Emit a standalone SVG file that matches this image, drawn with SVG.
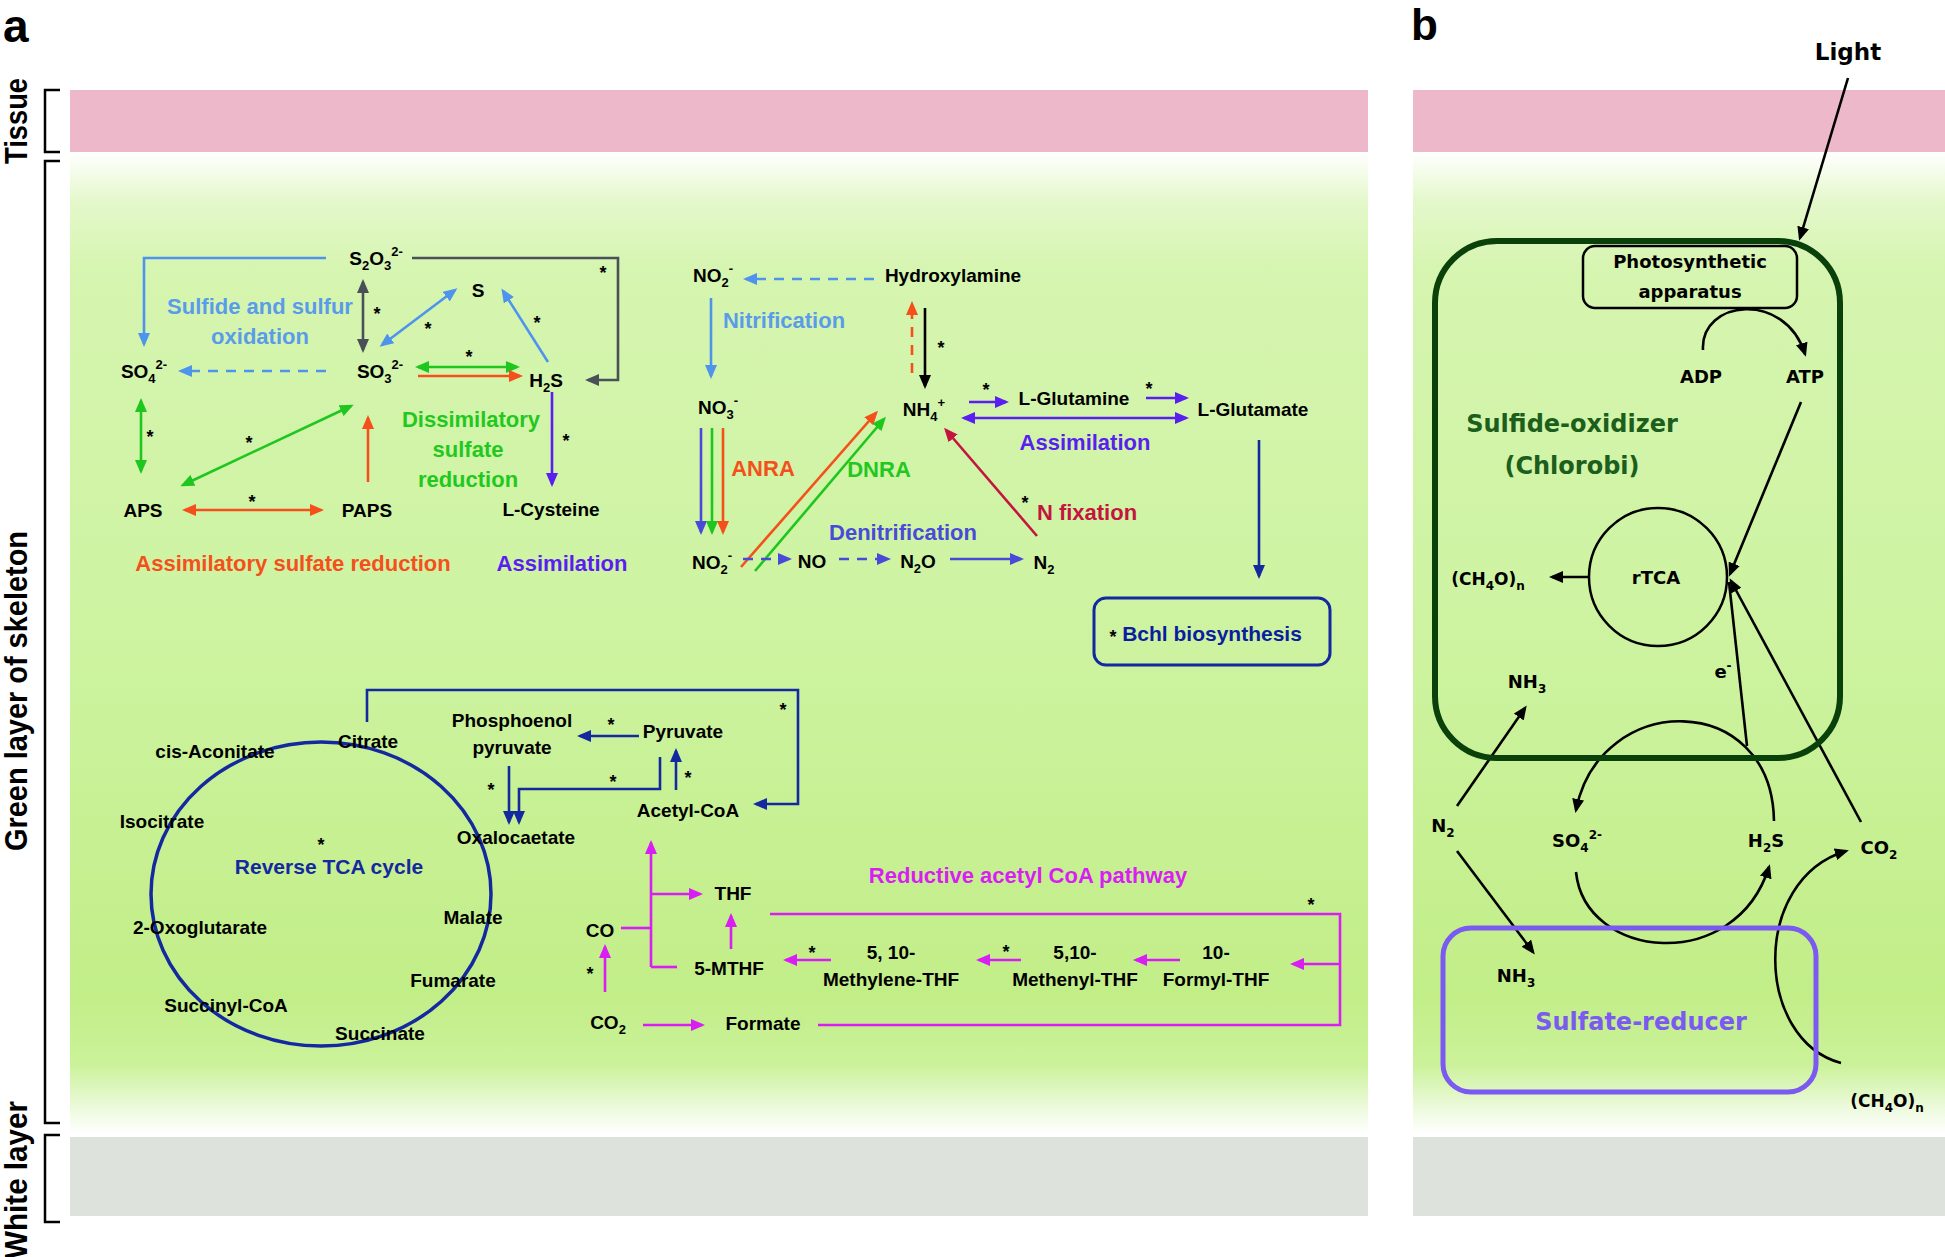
<svg xmlns="http://www.w3.org/2000/svg" width="1945" height="1257" viewBox="0 0 1945 1257">
<defs>
<style>
.n{font-family:"Liberation Sans",Arial,sans-serif;font-weight:bold;font-size:19px;fill:#000;text-anchor:middle}
.t{font-size:19px}
.lab{font-size:22px}
.sb{font-size:13px}
.st{font-family:"Liberation Sans",Arial,sans-serif;font-weight:bold;font-size:18px;text-anchor:middle;fill:#000}
.b{font-family:"DejaVu Sans",Verdana,sans-serif;font-weight:bold;font-size:18px;fill:#000;text-anchor:middle}
.bs{font-size:12px}
.vl{font-family:"Liberation Sans",Arial,sans-serif;font-weight:bold;font-size:32px;fill:#000;text-anchor:middle}
.c{fill:none;stroke-width:2.6}
.bl{stroke:#4F94EC}.gy{stroke:#4A5058}.gr{stroke:#1FC61F}.or{stroke:#F4501C}.pu{stroke:#5A1EF0}
.nv{stroke:#1428A0}.bk{stroke:#000}.cr{stroke:#C41440}.mg{stroke:#D81EF2}.dn{stroke:#4A4AD8}
.ds{stroke-dasharray:10 8}
</style>
<marker id="m-bl" markerUnits="userSpaceOnUse" markerWidth="14" markerHeight="12" refX="11" refY="6" orient="auto-start-reverse"><path d="M0,0 L14,6 L0,12 z" fill="#4F94EC"/></marker>
<marker id="m-gy" markerUnits="userSpaceOnUse" markerWidth="14" markerHeight="12" refX="11" refY="6" orient="auto-start-reverse"><path d="M0,0 L14,6 L0,12 z" fill="#4A5058"/></marker>
<marker id="m-gr" markerUnits="userSpaceOnUse" markerWidth="14" markerHeight="12" refX="11" refY="6" orient="auto-start-reverse"><path d="M0,0 L14,6 L0,12 z" fill="#1FC61F"/></marker>
<marker id="m-or" markerUnits="userSpaceOnUse" markerWidth="14" markerHeight="12" refX="11" refY="6" orient="auto-start-reverse"><path d="M0,0 L14,6 L0,12 z" fill="#F4501C"/></marker>
<marker id="m-pu" markerUnits="userSpaceOnUse" markerWidth="14" markerHeight="12" refX="11" refY="6" orient="auto-start-reverse"><path d="M0,0 L14,6 L0,12 z" fill="#5A1EF0"/></marker>
<marker id="m-nv" markerUnits="userSpaceOnUse" markerWidth="14" markerHeight="12" refX="11" refY="6" orient="auto-start-reverse"><path d="M0,0 L14,6 L0,12 z" fill="#1428A0"/></marker>
<marker id="m-bk" markerUnits="userSpaceOnUse" markerWidth="14" markerHeight="12" refX="11" refY="6" orient="auto-start-reverse"><path d="M0,0 L14,6 L0,12 z" fill="#000"/></marker>
<marker id="m-cr" markerUnits="userSpaceOnUse" markerWidth="14" markerHeight="12" refX="11" refY="6" orient="auto-start-reverse"><path d="M0,0 L14,6 L0,12 z" fill="#C41440"/></marker>
<marker id="m-mg" markerUnits="userSpaceOnUse" markerWidth="14" markerHeight="12" refX="11" refY="6" orient="auto-start-reverse"><path d="M0,0 L14,6 L0,12 z" fill="#D81EF2"/></marker>
<marker id="m-dn" markerUnits="userSpaceOnUse" markerWidth="14" markerHeight="12" refX="11" refY="6" orient="auto-start-reverse"><path d="M0,0 L14,6 L0,12 z" fill="#4A4AD8"/></marker>
<linearGradient id="green" x1="0" y1="152" x2="0" y2="1134" gradientUnits="userSpaceOnUse">
<stop offset="0" stop-color="#FFFFFF"/>
<stop offset="0.05" stop-color="#E4F8CB"/>
<stop offset="0.12" stop-color="#D6F5B0"/>
<stop offset="0.5" stop-color="#CDF3A0"/>
<stop offset="0.86" stop-color="#C2EE88"/>
<stop offset="0.93" stop-color="#CBF29A"/>
<stop offset="0.975" stop-color="#EEFADF"/>
<stop offset="1" stop-color="#FFFFFF"/>
</linearGradient>
</defs>
<rect width="1945" height="1257" fill="#FFFFFF"/>

<g id="background">
<rect x="70" y="90" width="1298" height="62" fill="#ECB8CA"/>
<rect x="70" y="152" width="1298" height="982" fill="url(#green)"/>
<rect x="70" y="1137" width="1298" height="79" fill="#DDE2DD"/>
<rect x="1413" y="90" width="532" height="62" fill="#ECB8CA"/>
<rect x="1413" y="152" width="532" height="982" fill="url(#green)"/>
<rect x="1413" y="1137" width="532" height="79" fill="#DDE2DD"/>
</g>

<g id="panel-labels">
<text x="3" y="42" font-family="Liberation Sans, Arial, sans-serif" font-weight="bold" font-size="46">a</text>
<text x="1411" y="40" font-family="Liberation Sans, Arial, sans-serif" font-weight="bold" font-size="44">b</text>
</g>

<g id="layer-brackets" fill="none" stroke="#000" stroke-width="2.5">
<path d="M60,90 H45 V152 H60"/>
<path d="M60,161 H45 V1123 H60"/>
<path d="M60,1135 H45 V1222 H60"/>
</g>
<g id="layer-labels">
<text class="vl" transform="translate(27,121) rotate(-90)" textLength="86" lengthAdjust="spacingAndGlyphs">Tissue</text>
<text class="vl" transform="translate(27,691) rotate(-90)" textLength="320" lengthAdjust="spacingAndGlyphs">Green layer of skeleton</text>
<text class="vl" transform="translate(27,1180) rotate(-90)" textLength="158" lengthAdjust="spacingAndGlyphs">White layer</text>
</g>

<g id="connectors">
<!-- sulfur -->
<path class="c bl" d="M326,258 H144 V344" marker-end="url(#m-bl)"/>
<path class="c gy" d="M412,258 H618 V380 H588" marker-end="url(#m-gy)"/>
<path class="c gy" d="M363,282 V350" marker-start="url(#m-gy)" marker-end="url(#m-gy)"/>
<path class="c bl" d="M382,345 L455,290" marker-start="url(#m-bl)" marker-end="url(#m-bl)"/>
<path class="c bl" d="M548,362 L503,291" marker-end="url(#m-bl)"/>
<path class="c bl ds" d="M326,371 H181" marker-end="url(#m-bl)"/>
<path class="c gr" d="M418,367 H517" marker-start="url(#m-gr)" marker-end="url(#m-gr)"/>
<path class="c or" d="M418,376 H520" marker-end="url(#m-or)"/>
<path class="c gr" d="M141,401 V471" marker-start="url(#m-gr)" marker-end="url(#m-gr)"/>
<path class="c gr" d="M183,485 L351,406" marker-start="url(#m-gr)" marker-end="url(#m-gr)"/>
<path class="c or" d="M185,510 H321" marker-start="url(#m-or)" marker-end="url(#m-or)"/>
<path class="c or" d="M368,482 V418" marker-end="url(#m-or)"/>
<path class="c pu" d="M552,392 V484" marker-end="url(#m-pu)"/>
<!-- nitrogen -->
<path class="c bl ds" d="M874,279 H746" marker-end="url(#m-bl)"/>
<path class="c bl" d="M711,298 V376" marker-end="url(#m-bl)"/>
<path class="c or ds" d="M912,373 V304" marker-end="url(#m-or)"/>
<path class="c bk" d="M925,308 V386" marker-end="url(#m-bk)"/>
<path class="c pu" d="M969,402 H1006" marker-end="url(#m-pu)"/>
<path class="c pu" d="M1146,398 H1186" marker-end="url(#m-pu)"/>
<path class="c pu" d="M964,418 H1186" marker-start="url(#m-pu)" marker-end="url(#m-pu)"/>
<path class="c nv" d="M1259,440 V576" marker-end="url(#m-nv)"/>
<path class="c dn" d="M701,428 V532" marker-end="url(#m-dn)"/>
<path class="c gr" d="M712,428 V532" marker-end="url(#m-gr)"/>
<path class="c or" d="M723,428 V532" marker-end="url(#m-or)"/>
<path class="c or" d="M741,567 L876,413" marker-end="url(#m-or)"/>
<path class="c gr" d="M755,571 L884,419" marker-end="url(#m-gr)"/>
<path class="c cr" d="M1037,536 L946,430" marker-end="url(#m-cr)"/>
<path class="c dn ds" d="M743,559 H789" marker-end="url(#m-dn)"/>
<path class="c dn ds" d="M839,559 H888" marker-end="url(#m-dn)"/>
<path class="c dn" d="M950,559 H1021" marker-end="url(#m-dn)"/>
<!-- TCA -->
<path class="c nv" d="M367,722 V690 H798 V804 H756" marker-end="url(#m-nv)"/>
<path class="c nv" d="M639,736 H580" marker-end="url(#m-nv)"/>
<path class="c nv" d="M676,790 V751" marker-end="url(#m-nv)"/>
<path class="c nv" d="M660,757 V789 H519 V822" marker-end="url(#m-nv)"/>
<path class="c nv" d="M509,766 V822" marker-end="url(#m-nv)"/>
<!-- reductive acetyl CoA -->
<path class="c mg" d="M605,992 V947" marker-end="url(#m-mg)"/>
<path class="c mg" d="M621,928 H651"/>
<path class="c mg" d="M651,967 V843" marker-end="url(#m-mg)"/>
<path class="c mg" d="M651,894 H700" marker-end="url(#m-mg)"/>
<path class="c mg" d="M651,967 H677"/>
<path class="c mg" d="M731,949 V916" marker-end="url(#m-mg)"/>
<path class="c mg" d="M770,914 H1340 V1025 H818"/>
<path class="c mg" d="M1340,964 H1293" marker-end="url(#m-mg)"/>
<path class="c mg" d="M1180,960 H1136" marker-end="url(#m-mg)"/>
<path class="c mg" d="M1021,960 H979" marker-end="url(#m-mg)"/>
<path class="c mg" d="M831,960 H786" marker-end="url(#m-mg)"/>
<path class="c mg" d="M643,1025 H702" marker-end="url(#m-mg)"/>
<!-- panel b -->
<path class="c bk" d="M1848,78 L1800,238" marker-end="url(#m-bk)"/>
<path class="c bk" d="M1703,350 C1700,300 1785,290 1805,354" marker-end="url(#m-bk)"/>
<path class="c bk" d="M1801,402 L1730,574" marker-end="url(#m-bk)"/>
<path class="c bk" d="M1589,577 H1552" marker-end="url(#m-bk)"/>
<path class="c bk" d="M1747,746 L1729,582"/>
<path class="c bk" d="M1861,822 L1731,581" marker-end="url(#m-bk)"/>
<path class="c bk" d="M1774,821 C1772,690 1600,690 1576,810" marker-end="url(#m-bk)"/>
<path class="c bk" d="M1576,872 C1585,960 1735,975 1769,867" marker-end="url(#m-bk)"/>
<path class="c bk" d="M1841,1063 C1755,1040 1750,880 1846,851" marker-end="url(#m-bk)"/>
<path class="c bk" d="M1457,806 L1525,708" marker-end="url(#m-bk)"/>
<path class="c bk" d="M1457,851 L1533,952" marker-end="url(#m-bk)"/>
</g>

<g id="sulfur">
<g id="n-s2o3"><text class="n" x="376" y="265">S<tspan class="sb" dy="5">2</tspan><tspan dy="-5">O</tspan><tspan class="sb" dy="5">3</tspan><tspan class="sb" dy="-14">2-</tspan></text></g>
<g id="n-s"><text class="n" x="478" y="297">S</text></g>
<g id="n-so4"><text class="n" x="144" y="378">SO<tspan class="sb" dy="5">4</tspan><tspan class="sb" dy="-14">2-</tspan></text></g>
<g id="n-so3"><text class="n" x="380" y="378">SO<tspan class="sb" dy="5">3</tspan><tspan class="sb" dy="-14">2-</tspan></text></g>
<g id="n-h2s"><text class="n" x="546" y="387">H<tspan class="sb" dy="5">2</tspan><tspan dy="-5">S</tspan></text></g>
<g id="n-aps"><text class="n" x="143" y="517">APS</text></g>
<g id="n-paps"><text class="n" x="367" y="517">PAPS</text></g>
<g id="n-cys"><text class="n t" x="551" y="516">L-Cysteine</text></g>
<g id="l-sox"><text class="n lab" x="260" y="314" style="fill:#5A9BEA">Sulfide and sulfur</text><text class="n lab" x="260" y="344" style="fill:#5A9BEA">oxidation</text></g>
<g id="l-dsr"><text class="n lab" x="471" y="427" style="fill:#22C81E">Dissimilatory</text><text class="n lab" x="468" y="457" style="fill:#22C81E">sulfate</text><text class="n lab" x="468" y="487" style="fill:#22C81E">reduction</text></g>
<g id="l-asr"><text class="n lab" x="293" y="571" style="fill:#F4501C">Assimilatory sulfate reduction</text></g>
<g id="l-assim1"><text class="n lab" x="562" y="571" style="fill:#5A1EF0">Assimilation</text></g>
<g id="stars-s">
<text class="st" x="603" y="279">*</text><text class="st" x="377" y="320">*</text><text class="st" x="428" y="335">*</text>
<text class="st" x="537" y="329">*</text><text class="st" x="469" y="363">*</text><text class="st" x="150" y="443">*</text>
<text class="st" x="249" y="449">*</text><text class="st" x="252" y="508">*</text><text class="st" x="566" y="447">*</text>
</g>
</g>

<g id="nitrogen">
<g id="n-no2a"><text class="n" x="713" y="282">NO<tspan class="sb" dy="5">2</tspan><tspan class="sb" dy="-14">-</tspan></text></g>
<g id="n-hydroxylamine"><text class="n" x="953" y="282">Hydroxylamine</text></g>
<g id="l-nitr"><text class="n lab" x="784" y="328" style="fill:#5A9BEA">Nitrification</text></g>
<g id="n-no3"><text class="n" x="718" y="414">NO<tspan class="sb" dy="5">3</tspan><tspan class="sb" dy="-14">-</tspan></text></g>
<g id="n-nh4"><text class="n" x="924" y="416">NH<tspan class="sb" dy="5">4</tspan><tspan class="sb" dy="-14">+</tspan></text></g>
<g id="n-gln"><text class="n" x="1074" y="405">L-Glutamine</text></g>
<g id="n-glu"><text class="n" x="1253" y="416">L-Glutamate</text></g>
<g id="l-assim2"><text class="n lab" x="1085" y="450" style="fill:#5A1EF0">Assimilation</text></g>
<g id="l-anra"><text class="n lab" x="763" y="476" style="fill:#F4501C">ANRA</text></g>
<g id="l-dnra"><text class="n lab" x="879" y="477" style="fill:#22C81E">DNRA</text></g>
<g id="l-nfix"><text class="n lab" x="1087" y="520" style="fill:#C41440">N fixation</text></g>
<g id="l-denit"><text class="n lab" x="903" y="540" style="fill:#4A4AD8">Denitrification</text></g>
<g id="n-no2b"><text class="n" x="712" y="569">NO<tspan class="sb" dy="5">2</tspan><tspan class="sb" dy="-14">-</tspan></text></g>
<g id="n-no"><text class="n" x="812" y="568">NO</text></g>
<g id="n-n2o"><text class="n" x="918" y="568">N<tspan class="sb" dy="5">2</tspan><tspan dy="-5">O</tspan></text></g>
<g id="n-n2"><text class="n" x="1044" y="569">N<tspan class="sb" dy="5">2</tspan></text></g>
<g id="n-bchl"><rect x="1094" y="598" width="236" height="67" rx="12" fill="none" stroke="#1428A0" stroke-width="3"/><text class="st" x="1113" y="643">*</text><text class="n" x="1212" y="641" style="fill:#0A1E9E;font-size:21px">Bchl biosynthesis</text></g>
<g id="stars-n"><text class="st" x="941" y="354">*</text><text class="st" x="986" y="396">*</text><text class="st" x="1149" y="395">*</text><text class="st" x="1025" y="509">*</text></g>
</g>

<g id="tca">
<ellipse id="rtca-cycle" cx="321" cy="894" rx="170" ry="152" fill="none" stroke="#1428A0" stroke-width="3.5"/>
<g id="n-cisacon"><text class="n t" x="215" y="758">cis-Aconitate</text></g>
<g id="n-citrate"><text class="n t" x="368" y="748">Citrate</text></g>
<g id="n-isocit"><text class="n t" x="162" y="828">Isocitrate</text></g>
<g id="l-rtca"><text class="st" x="321" y="851">*</text><text class="n" x="329" y="874" style="fill:#1428A0;font-size:21px">Reverse TCA cycle</text></g>
<g id="n-oxoglu"><text class="n t" x="200" y="934">2-Oxoglutarate</text></g>
<g id="n-malate"><text class="n t" x="473" y="924">Malate</text></g>
<g id="n-fumarate"><text class="n t" x="453" y="987">Fumarate</text></g>
<g id="n-succoa"><text class="n t" x="226" y="1012">Succinyl-CoA</text></g>
<g id="n-succinate"><text class="n t" x="380" y="1040">Succinate</text></g>
<g id="n-oaa"><text class="n t" x="516" y="844">Oxalocaetate</text></g>
<g id="n-pep"><text class="n t" x="512" y="727">Phosphoenol</text><text class="n t" x="512" y="754">pyruvate</text></g>
<g id="n-pyr"><text class="n t" x="683" y="738">Pyruvate</text></g>
<g id="n-accoa"><text class="n t" x="688" y="817">Acetyl-CoA</text></g>
<g id="stars-t"><text class="st" x="783" y="716">*</text><text class="st" x="611" y="731">*</text><text class="st" x="688" y="784">*</text><text class="st" x="613" y="788">*</text><text class="st" x="491" y="796">*</text></g>
</g>

<g id="acetylcoa-pathway">
<g id="l-racp"><text class="n lab" x="1028" y="883" style="fill:#D81EF2">Reductive acetyl CoA pathway</text></g>
<g id="n-co"><text class="n" x="600" y="937">CO</text></g>
<g id="n-co2a"><text class="n" x="608" y="1029">CO<tspan class="sb" dy="5">2</tspan></text></g>
<g id="n-thf"><text class="n t" x="733" y="900">THF</text></g>
<g id="n-mthf"><text class="n t" x="729" y="975">5-MTHF</text></g>
<g id="n-methylene"><text class="n t" x="891" y="959">5, 10-</text><text class="n t" x="891" y="986">Methylene-THF</text></g>
<g id="n-methenyl"><text class="n t" x="1075" y="959">5,10-</text><text class="n t" x="1075" y="986">Methenyl-THF</text></g>
<g id="n-formyl"><text class="n t" x="1216" y="959">10-</text><text class="n t" x="1216" y="986">Formyl-THF</text></g>
<g id="n-formate"><text class="n t" x="763" y="1030">Formate</text></g>
<g id="stars-p"><text class="st" x="590" y="980">*</text><text class="st" x="812" y="959">*</text><text class="st" x="1006" y="958">*</text><text class="st" x="1311" y="911">*</text></g>
</g>

<g id="panel-b">
<g id="b-light"><text class="b" x="1848" y="60" style="font-size:23px">Light</text></g>
<g id="b-sox"><rect x="1435" y="241" width="405" height="517" rx="62" fill="none" stroke="#0A400A" stroke-width="6"/>
<text class="b" x="1572" y="432" style="fill:#1C5E1C;font-size:24px">Sulfide-oxidizer</text>
<text class="b" x="1572" y="474" style="fill:#1C5E1C;font-size:24px">(Chlorobi)</text></g>
<g id="b-photo"><rect x="1583" y="246" width="214" height="62" rx="12" fill="none" stroke="#000" stroke-width="2.5"/>
<text class="b" x="1690" y="268">Photosynthetic</text><text class="b" x="1690" y="298">apparatus</text></g>
<g id="b-adp"><text class="b" x="1701" y="383">ADP</text></g>
<g id="b-atp"><text class="b" x="1805" y="383">ATP</text></g>
<g id="b-rtca"><circle cx="1658" cy="577" r="69" fill="none" stroke="#000" stroke-width="2.5"/><text class="b" x="1656" y="584">rTCA</text></g>
<g id="b-ch4o-a"><text class="b" x="1488" y="585" style="font-size:17px">(CH<tspan class="bs" dy="5">4</tspan><tspan dy="-5">O)</tspan><tspan class="bs" dy="5">n</tspan></text></g>
<g id="b-eminus"><text class="b" x="1723" y="678">e<tspan class="bs" dy="-8">-</tspan></text></g>
<g id="b-nh3a"><text class="b" x="1527" y="688">NH<tspan class="bs" dy="5">3</tspan></text></g>
<g id="b-n2"><text class="b" x="1443" y="832">N<tspan class="bs" dy="5">2</tspan></text></g>
<g id="b-so4"><text class="b" x="1577" y="847">SO<tspan class="bs" dy="5">4</tspan><tspan class="bs" dy="-13">2-</tspan></text></g>
<g id="b-h2s"><text class="b" x="1766" y="847">H<tspan class="bs" dy="5">2</tspan><tspan dy="-5">S</tspan></text></g>
<g id="b-co2"><text class="b" x="1879" y="854">CO<tspan class="bs" dy="5">2</tspan></text></g>
<g id="b-nh3b"><text class="b" x="1516" y="982">NH<tspan class="bs" dy="5">3</tspan></text></g>
<g id="b-srb"><rect x="1443" y="928" width="373" height="164" rx="28" fill="none" stroke="#7A5AF0" stroke-width="5"/>
<text class="b" x="1641" y="1030" style="fill:#7A5AF0;font-size:24px">Sulfate-reducer</text></g>
<g id="b-ch4o-b"><text class="b" x="1887" y="1107" style="font-size:17px">(CH<tspan class="bs" dy="5">4</tspan><tspan dy="-5">O)</tspan><tspan class="bs" dy="5">n</tspan></text></g>
</g>
</svg>
